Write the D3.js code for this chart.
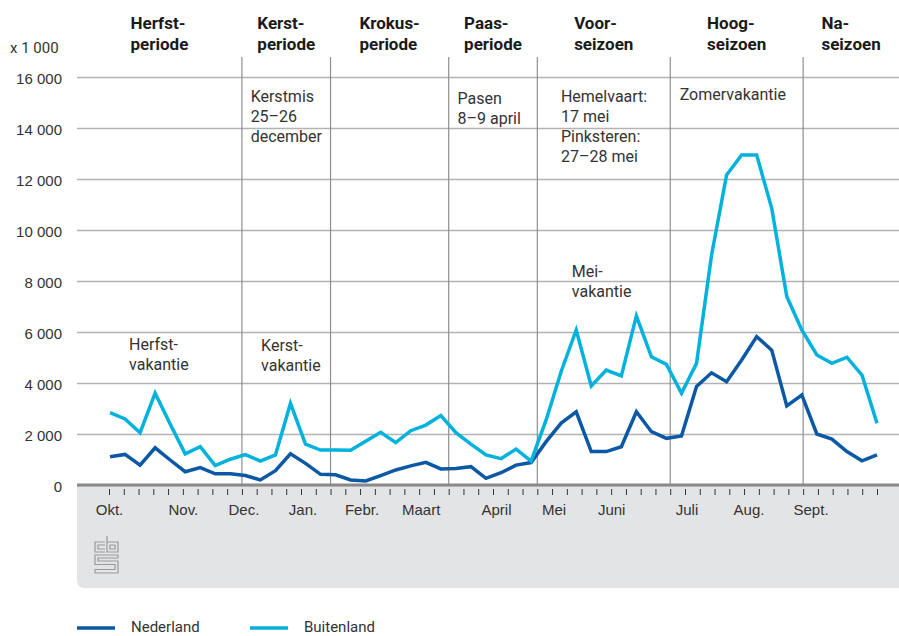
<!DOCTYPE html>
<html>
<head>
<meta charset="utf-8">
<script src="https://cdn.jsdelivr.net/npm/d3@7"></script>
<style>
  body { margin: 0; background: #fff; }
  svg { font-family: Roboto, "Noto Sans", sans-serif; }
</style>
</head>
<body>
<svg></svg>
<script>
// weekly values (x 1 000), week 40 -> week 39
var nederland = [1110, 1200, 780, 1460, 980, 520, 680, 440, 440, 370, 200, 560, 1220, 850, 420,
                 400, 200, 160, 370, 590, 750, 890, 630, 650, 720, 260, 480, 780, 880,
                 1700, 2430, 2870, 1310, 1310, 1500, 2870, 2090, 1830, 1920, 3860, 4400, 4050,
                 4900, 5820, 5290, 3100, 3530, 2000, 1800, 1310, 950, 1180];
var buitenland = [2840, 2590, 2050, 3600, 2390, 1220, 1500, 760, 1010, 1190, 940, 1180, 3200, 1600, 1370,
                  1370, 1360, 1720, 2070, 1660, 2130, 2350, 2720, 2050, 1600, 1180, 1030, 1410, 940,
                  2550, 4450, 6080, 3880, 4510, 4280, 6630, 5030, 4730, 3600, 4770, 9020, 12160,
                  12940, 12940, 10850, 7390, 6080, 5100, 4770, 5010, 4310, 2420];

var yTicks = [0, 2000, 4000, 6000, 8000, 10000, 12000, 14000, 16000];
var monthNames = ["Okt.", "Nov.", "Dec.", "Jan.", "Febr.", "Maart", "April", "Mei", "Juni", "Juli", "Aug.", "Sept."];
var monthWeek = [0, 5, 9.1, 13.1, 17.1, 21.1, 26.2, 30.1, 34, 39.1, 43.3, 47.5];

var periodStart = [9, 15, 23, 29, 38, 47];
var periodNames = [["Herfst-", "periode"], ["Kerst-", "periode"], ["Krokus-", "periode"], ["Paas-", "periode"],
                   ["Voor-", "seizoen"], ["Hoog-", "seizoen"], ["Na-", "seizoen"]];

var annotations = [
  {lines: ["Kerstmis", "25–26", "december"], week: 9.59, value: 15020},
  {lines: ["Pasen", "8–9 april"], week: 23.6, value: 14940},
  {lines: ["Hemelvaart:", "17 mei", "Pinksteren:", "27–28 mei"], week: 30.6, value: 15020},
  {lines: ["Zomervakantie"], week: 38.64, value: 15100},
  {lines: ["Mei-", "vakantie"], week: 31.34, value: 8160},
  {lines: ["Herfst-", "vakantie"], week: 1.36, value: 5290},
  {lines: ["Kerst-", "vakantie"], week: 10.3, value: 5250}
];

var series = [
  {name: "Nederland", values: nederland, color: "#0b58a4"},
  {name: "Buitenland", values: buitenland, color: "#00b2dc"}
];

var width = 899, height = 636;
var plotLeft = 77, plotRight = 899, plotTop = 77, plotBottom = 485;

var svg = d3.select("svg")
    .attr("width", width)
    .attr("height", height);

var y = d3.scaleLinear().domain([0, 16000]).range([plotBottom, plotTop]);
var xTick = d3.scaleLinear().domain([0, 52]).range([109, 877]);
var xData = d3.scaleLinear().domain([0, nederland.length - 1]).range([110, 877]);

var nl = d3.formatLocale({decimal: ",", thousands: " ", grouping: [3], currency: ["€", ""]});
var fmt = nl.format(",d");

// grey footer box
svg.append("path")
    .attr("d", "M" + plotLeft + "," + (plotBottom + 1) + "H" + plotRight + "V588H" + (plotLeft + 8) +
               "Q" + plotLeft + ",588 " + plotLeft + ",580Z")
    .attr("fill", "#e3e4e6");

// y axis + gridlines
var yAxis = svg.append("g")
    .attr("transform", "translate(" + plotLeft + ",0)")
    .call(d3.axisLeft(y).tickValues(yTicks).tickFormat(fmt)
            .tickSize(-(plotRight - plotLeft)).tickPadding(15));
yAxis.select(".domain").remove();
yAxis.selectAll("line").attr("stroke", "#b3b3b3").attr("stroke-width", 1.3);
yAxis.selectAll("text").attr("font-size", 15).attr("fill", "#333").attr("dy", "0.4em");

svg.append("text")
    .attr("x", 10).attr("y", 53)
    .attr("font-size", 15).attr("fill", "#333")
    .text("x 1 000");

// period separators
svg.selectAll(".sep")
    .data(periodStart)
    .enter().append("line")
    .attr("class", "sep")
    .attr("x1", function(d) { return xTick(d); })
    .attr("x2", function(d) { return xTick(d); })
    .attr("y1", 57).attr("y2", plotBottom)
    .attr("stroke", "#8f8f8f").attr("stroke-width", 1.2);

// period headers, centred between separators
var bounds = [plotLeft].concat(periodStart.map(function(d) { return xTick(d); }), [plotRight]);
var header = svg.selectAll(".header")
    .data(periodNames)
    .enter().append("text")
    .attr("class", "header")
    .attr("font-size", 17).attr("font-weight", "bold").attr("fill", "#1a1a1a");
header.selectAll("tspan")
    .data(function(d) { return d; })
    .enter().append("tspan")
    .attr("y", function(d, i) { return 29 + i * 21; })
    .text(function(d) { return d; });
header.each(function(d, i) {
  var w = d3.max(d3.select(this).selectAll("tspan").nodes(), function(n) { return n.getComputedTextLength(); });
  var cx = (bounds[i] + bounds[i + 1]) / 2;
  d3.select(this).selectAll("tspan").attr("x", cx - w / 2);
});

// x axis: thick baseline, week ticks, month labels
svg.append("line")
    .attr("x1", plotLeft).attr("x2", plotRight)
    .attr("y1", plotBottom).attr("y2", plotBottom)
    .attr("stroke", "#8a8a8a").attr("stroke-width", 3);

var weekAxis = svg.append("g")
    .attr("transform", "translate(0,489)")
    .call(d3.axisBottom(xTick).tickValues(d3.range(53)).tickSize(6).tickFormat(""));
weekAxis.select(".domain").remove();
weekAxis.selectAll("line").attr("stroke", "#333");

var monthAxis = svg.append("g")
    .attr("transform", "translate(0,501)")
    .call(d3.axisBottom(xTick).tickValues(monthWeek).tickSize(0)
            .tickFormat(function(d, i) { return monthNames[i]; }));
monthAxis.select(".domain").remove();
monthAxis.selectAll("text").attr("font-size", 15).attr("fill", "#333");

// cbs logo
var logo = svg.append("g")
    .attr("fill", "none").attr("stroke", "#9a9a9a").attr("stroke-width", 1.2);
logo.append("path").attr("d", "M105,542H95V552H105M105,545H98V549H105");
logo.append("path").attr("d", "M107,536V552H118V542H107M110,545H115V549H110Z");
logo.append("path").attr("d", "M118,555H95V564.5H115V569.5H95V573H118V561H98V558H118Z");

// data lines
var line = d3.line()
    .x(function(d, i) { return xData(i); })
    .y(function(d) { return y(d); });

svg.selectAll(".series")
    .data(series)
    .enter().append("path")
    .attr("class", "series")
    .attr("fill", "none")
    .attr("stroke", function(d) { return d.color; })
    .attr("stroke-width", 3.5)
    .attr("d", function(d) { return line(d.values); });

// annotations
var note = svg.selectAll(".note")
    .data(annotations)
    .enter().append("text")
    .attr("class", "note")
    .attr("font-size", 16).attr("fill", "#333");
note.selectAll("tspan")
    .data(function(d) { return d.lines.map(function(l) { return {text: l, a: d}; }); })
    .enter().append("tspan")
    .attr("x", function(d) { return xTick(d.a.week); })
    .attr("y", function(d, i) { return y(d.a.value) + i * 20; })
    .text(function(d) { return d.text; });

// legend
var legend = svg.selectAll(".legend")
    .data(series)
    .enter().append("g")
    .attr("class", "legend")
    .attr("transform", function(d, i) { return "translate(" + (77 + i * 173) + ",628)"; });
legend.append("line")
    .attr("x1", 0).attr("x2", 38)
    .attr("stroke", function(d) { return d.color; })
    .attr("stroke-width", 3.5);
legend.append("text")
    .attr("x", 54).attr("y", 4)
    .attr("font-size", 15).attr("fill", "#333")
    .text(function(d) { return d.name; });
</script>
</body>
</html>
